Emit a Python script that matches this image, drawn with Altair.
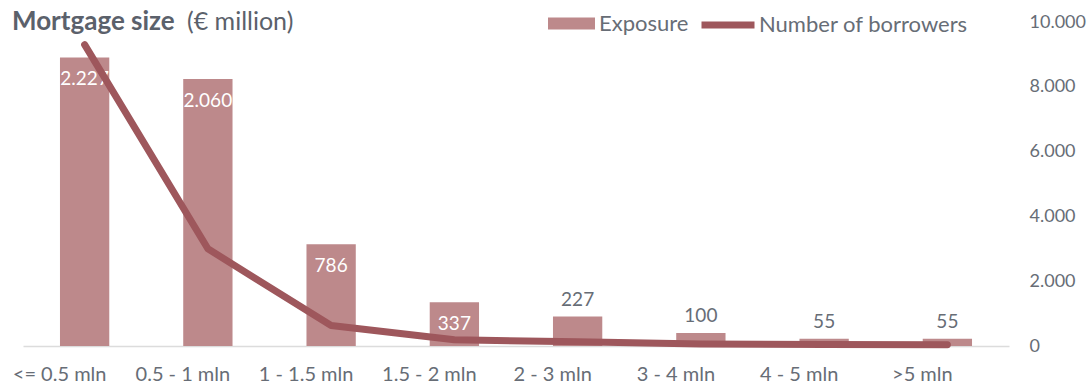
import altair as alt
import pandas as pd

categories = ["<= 0.5 mln", "0.5 - 1 mln", "1 - 1.5 mln", "1.5 - 2 mln",
              "2 - 3 mln", "3 - 4 mln", "4 - 5 mln", ">5 mln"]
exposure = [2227, 2060, 786, 337, 227, 100, 55, 55]
exposure_labels = ["2.227", "2.060", "786", "337", "227", "100", "55", "55"]
borrowers = [9300, 3000, 630, 190, 130, 60, 45, 40]

df = pd.DataFrame({
    "cat": categories,
    "exposure": exposure,
    "label": exposure_labels,
    "borrowers": borrowers,
    "s1": ["Exposure"] * len(categories),
    "s2": ["Number of borrowers"] * len(categories),
})

FONT = "Lato"
GREY = "#676d76"
BAR = "#bd898b"
LINE = "#9e575c"

x = alt.X("cat:N", sort=categories, title=None,
          scale=alt.Scale(paddingInner=0.6, paddingOuter=0.3),
          axis=alt.Axis(labelAngle=0, ticks=False, domainColor="#dcdcdc", domainWidth=1.5,
                        labelFontSize=20, labelColor=GREY, labelFont=FONT,
                        labelPadding=18, labelOffset=-25))

ybar = alt.Y("exposure:Q", scale=alt.Scale(domain=[0, 2500]), axis=None)

base = alt.Chart(df)

bars = base.mark_bar(color=BAR).encode(
    x=x, y=ybar,
    color=alt.Color("s1:N", scale=alt.Scale(range=[BAR]),
                    legend=alt.Legend(title=None, orient="none", legendX=525, legendY=-22,
                                      symbolType="M-1,-0.26H1V0.26H-1Z", symbolSize=2209,
                                      symbolStrokeWidth=0, symbolOpacity=1,
                                      labelFont=FONT, labelFontSize=22, labelColor=GREY,
                                      labelOffset=4, labelLimit=300)),
)

inside = base.transform_filter("datum.exposure >= 300").mark_text(
    baseline="middle", dy=22, fontSize=19, font=FONT, color="white"
).encode(x=x, y=ybar, text="label:N")

outside = base.transform_filter("datum.exposure < 300").mark_text(
    baseline="middle", dy=-17, fontSize=19, font=FONT, color=GREY
).encode(x=x, y=ybar, text="label:N")

line = base.mark_line(strokeWidth=7, strokeCap="round", strokeJoin="round").encode(
    x=x,
    y=alt.Y("borrowers:Q", scale=alt.Scale(domain=[0, 10000]), title=None,
            axis=alt.Axis(orient="right", values=[0, 2000, 4000, 6000, 8000, 10000],
                          labelExpr="replace(format(datum.value, ','), ',', '.')",
                          ticks=False, domain=False, grid=False, labelAlign="left",
                          labelPadding=20, labelFontSize=18, labelColor=GREY, labelFont=FONT)),
    color=alt.Color("s2:N", scale=alt.Scale(range=[LINE]),
                    legend=alt.Legend(title=None, orient="none", legendX=675, legendY=-27,
                                      symbolType="stroke", symbolSize=2809, symbolStrokeWidth=7,
                                      labelFont=FONT, labelFontSize=22, labelColor=GREY,
                                      labelOffset=1, labelLimit=300)),
)

title1 = alt.Chart(pd.DataFrame({"t": ["Mortgage size"]})).mark_text(
    align="left", baseline="middle", fontSize=26, font=FONT, fontWeight="bold", color="#5b616b"
).encode(x=alt.value(-11), y=alt.value(0), text="t:N")

title2 = alt.Chart(pd.DataFrame({"t": ["(€ million)"]})).mark_text(
    align="left", baseline="middle", fontSize=25, font=FONT, color="#5b616b"
).encode(x=alt.value(164), y=alt.value(0), text="t:N")

left = alt.layer(bars, inside, outside)
chart = alt.layer(left, line, title1, title2).resolve_scale(
    y="independent", color="independent"
).resolve_legend(color="independent").properties(
    width=986, height=324,
    autosize=alt.AutoSizeParams(type="none"),
    padding={"left": 23, "top": 22, "right": 80, "bottom": 37},
).configure_view(stroke=None)

chart.save("out.html", embed_options={"renderer": "svg", "actions": False})
